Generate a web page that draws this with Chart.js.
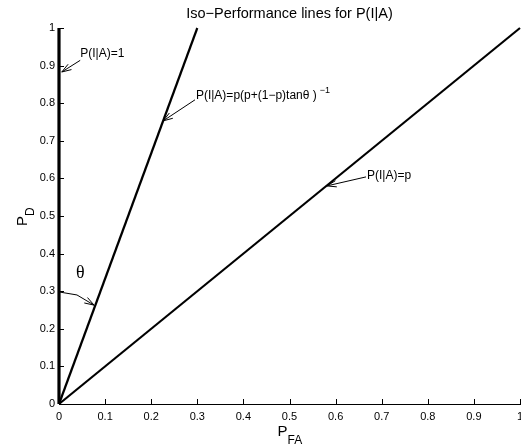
<!DOCTYPE html>
<html>
<head>
<meta charset="utf-8">
<script src="https://cdn.jsdelivr.net/npm/chart.js@4.4.1/dist/chart.umd.min.js"></script>
<style>
  html, body { margin: 0; padding: 0; background: #fff; }
  #wrap { width: 521px; height: 446px; }
</style>
</head>
<body>
<div id="wrap"><canvas id="isoChart" width="521" height="446"></canvas></div>
<script>
// iso-performance lines (P_FA, P_D)
const pfaPerfect = [0, 0];
const pdPerfect = [0, 1];
const pfaTheta = [0, 0.3];
const pdTheta = [0, 1];
const pfaChance = [0, 1];
const pdChance = [0, 1];

const tickValues = [0, 0.1, 0.2, 0.3, 0.4, 0.5, 0.6, 0.7, 0.8, 0.9, 1];
const tickLabels = ['0', '0.1', '0.2', '0.3', '0.4', '0.5', '0.6', '0.7', '0.8', '0.9', '1'];

const titleText = 'Iso\u2212Performance lines for P(I|A)';

// annotation labels: text, where the text starts, arrow start, arrow tip (data units)
const noteTexts = ['P(I|A)=1', 'P(I|A)=p(p+(1\u2212p)tan\u03b8 )', 'P(I|A)=p'];
const noteSups = ['', '\u22121', ''];
const noteTextX = [0.046, 0.297, 0.668];
const noteTextY = [0.932, 0.821, 0.606];
const noteFromX = [0.046, 0.295, 0.666];
const noteFromY = [0.914, 0.809, 0.604];
const noteTipX = [0.006, 0.226, 0.581];
const noteTipY = [0.883, 0.753, 0.580];

// theta angle marker
const thetaTextX = 0.046, thetaTextY = 0.348;
const thetaArrowX = [0, 0.039, 0.076];
const thetaArrowY = [0.298, 0.290, 0.263];

function toPoints(xs, ys) {
    return xs.map((x, i) => ({ x: x, y: ys[i] }));
}

function drawArrowHead(c, fx, fy, tx, ty) {
    let ang = Math.atan2(ty - fy, tx - fx);
    let len = 10, spread = 0.32;
    c.beginPath();
    c.moveTo(tx - len * Math.cos(ang - spread), ty - len * Math.sin(ang - spread));
    c.lineTo(tx, ty);
    c.lineTo(tx - len * Math.cos(ang + spread), ty - len * Math.sin(ang + spread));
    c.stroke();
}

const decorPlugin = {
    id: 'decor',
    afterDraw(chart) {
        let c = chart.ctx;
        let xs = chart.scales.x, ys = chart.scales.y;
        let area = chart.chartArea;
        c.save();
        c.fillStyle = '#000';
        c.strokeStyle = '#000';

        // inward ticks
        c.lineWidth = 1;
        tickValues.forEach(v => {
            let px = Math.round(xs.getPixelForValue(v)) + 0.5;
            c.beginPath();
            c.moveTo(px, area.bottom);
            c.lineTo(px, area.bottom - 5);
            c.stroke();
            let py = Math.round(ys.getPixelForValue(v)) + 0.5;
            c.beginPath();
            c.moveTo(area.left, py);
            c.lineTo(area.left + 5, py);
            c.stroke();
        });

        // title
        c.font = '14.5px "Liberation Sans", Arial, sans-serif';
        c.textAlign = 'center';
        c.textBaseline = 'middle';
        c.fillText(titleText, (area.left + area.right) / 2, 14);

        // x axis label P_FA
        let cx = (area.left + area.right) / 2;
        c.textAlign = 'left';
        c.textBaseline = 'alphabetic';
        c.font = '15px "Liberation Sans", Arial, sans-serif';
        c.fillText('P', cx - 12, 436);
        let pw = c.measureText('P').width;
        c.font = '12px "Liberation Sans", Arial, sans-serif';
        c.fillText('FA', cx - 12 + pw, 444);

        // y axis label P_D
        c.save();
        c.translate(27, 226);
        c.rotate(-Math.PI / 2);
        c.font = '15px "Liberation Sans", Arial, sans-serif';
        c.fillText('P', 0, 0);
        pw = c.measureText('P').width;
        c.font = '12px "Liberation Sans", Arial, sans-serif';
        c.fillText('D', pw, 7);
        c.restore();

        // annotations with arrows
        c.lineWidth = 1;
        noteTexts.forEach((t, i) => {
            let tx = xs.getPixelForValue(noteTextX[i]);
            let ty = ys.getPixelForValue(noteTextY[i]);
            c.font = '12px "Liberation Sans", Arial, sans-serif';
            c.textAlign = 'left';
            c.textBaseline = 'middle';
            c.fillText(t, tx, ty);
            if (noteSups[i]) {
                let w = c.measureText(t).width;
                c.font = '9px "Liberation Sans", Arial, sans-serif';
                c.fillText(noteSups[i], tx + w + 3, ty - 5);
            }
            let fx = xs.getPixelForValue(noteFromX[i]);
            let fy = ys.getPixelForValue(noteFromY[i]);
            let px = xs.getPixelForValue(noteTipX[i]);
            let py = ys.getPixelForValue(noteTipY[i]);
            c.beginPath();
            c.moveTo(fx, fy);
            c.lineTo(px, py);
            c.stroke();
            drawArrowHead(c, fx, fy, px, py);
        });

        // theta
        c.font = '18px "Liberation Serif", "Times New Roman", serif';
        c.textAlign = 'center';
        c.textBaseline = 'middle';
        c.fillText('\u03b8', xs.getPixelForValue(thetaTextX), ys.getPixelForValue(thetaTextY));
        let pts = thetaArrowX.map((x, i) => [xs.getPixelForValue(x), ys.getPixelForValue(thetaArrowY[i])]);
        c.beginPath();
        c.moveTo(pts[0][0], pts[0][1]);
        for (let i = 1; i < pts.length; i++) c.lineTo(pts[i][0], pts[i][1]);
        c.stroke();
        drawArrowHead(c, pts[1][0], pts[1][1], pts[2][0], pts[2][1]);

        c.restore();
    }
};

let ctx = document.getElementById('isoChart').getContext('2d');

let chart = new Chart(ctx, {
    type: 'scatter',
    data: {
        datasets: [
            { data: toPoints(pfaPerfect, pdPerfect), borderWidth: 3.2 },
            { data: toPoints(pfaTheta, pdTheta), borderWidth: 2.2 },
            { data: toPoints(pfaChance, pdChance), borderWidth: 2.2 }
        ].map(d => Object.assign(d, {
            showLine: true,
            borderColor: '#000',
            pointRadius: 0,
            clip: false
        }))
    },
    options: {
        responsive: false,
        animation: false,
        devicePixelRatio: 1,
        layout: { autoPadding: false, padding: { left: 0, right: 1, top: 28, bottom: 0 } },
        plugins: {
            legend: { display: false },
            tooltip: { enabled: false },
            title: { display: false }
        },
        scales: {
            x: {
                type: 'linear',
                min: 0,
                max: 1,
                afterBuildTicks: s => { s.ticks = tickValues.map(v => ({ value: v })); },
                afterFit: s => { s.height = 42; s.paddingLeft = 0; s.paddingRight = 0; },
                grid: { display: true, drawOnChartArea: false, drawTicks: false },
                border: { display: true, color: '#000', width: 1 },
                ticks: {
                    padding: 6,
                    color: '#000',
                    maxRotation: 0,
                    autoSkip: false,
                    font: { family: '"Liberation Sans", Arial, sans-serif', size: 11 },
                    callback: (v, i) => tickLabels[i]
                }
            },
            y: {
                type: 'linear',
                min: 0,
                max: 1,
                afterBuildTicks: s => { s.ticks = tickValues.map(v => ({ value: v })); },
                afterFit: s => { s.width = 59; s.paddingTop = 0; s.paddingBottom = 0; },
                grid: { display: true, drawOnChartArea: false, drawTicks: false },
                border: { display: true, color: '#000', width: 1 },
                ticks: {
                    padding: 4,
                    color: '#000',
                    autoSkip: false,
                    font: { family: '"Liberation Sans", Arial, sans-serif', size: 11 },
                    callback: (v, i) => tickLabels[i]
                }
            }
        }
    },
    plugins: [decorPlugin]
});
</script>
</body>
</html>
